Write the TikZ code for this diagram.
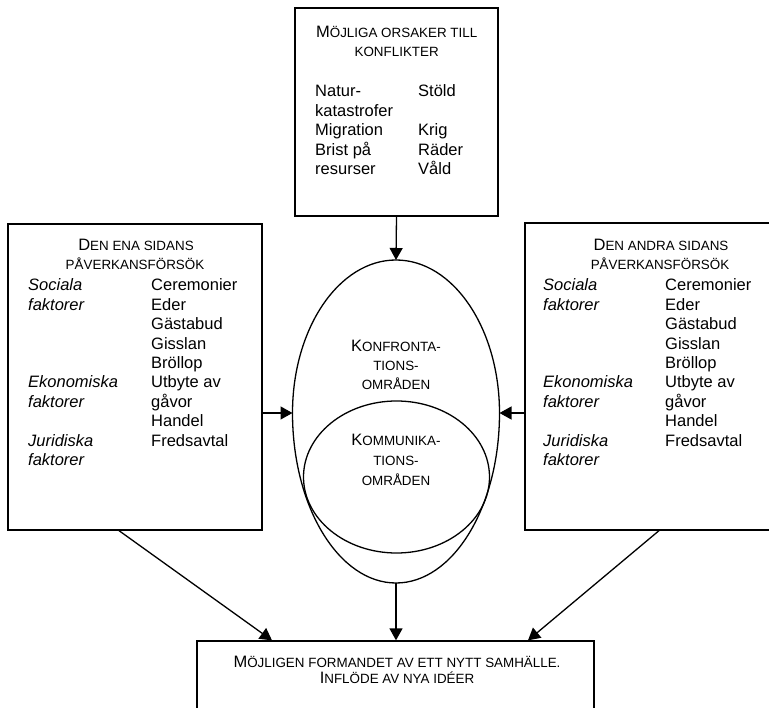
\documentclass[tikz,border=0pt]{standalone}
\usepackage{fontspec}
\setmainfont{Liberation Sans}
\usetikzlibrary{shapes.geometric,arrows.meta,calc}
\newcommand\sct[1]{{\fontsize{13.4}{16}\selectfont\MakeUppercase{#1}}}
\tikzset{
  ln/.style={line width=1.3pt},
  box/.style={ln, draw, inner sep=0pt},
  arr/.style={ln, -{Triangle[length=12pt,width=13pt]}},
  txt/.style={anchor=base west, inner sep=0pt, font=\fontsize{16.5}{19.4}\selectfont},
  itxt/.style={txt, font=\fontsize{16.5}{19.4}\selectfont\itshape},
  hd/.style={anchor=base, inner sep=0pt, font=\fontsize{16.5}{19.4}\selectfont},
}
\begin{document}
\begin{tikzpicture}[x=1pt,y=-1pt]
\useasboundingbox (0,0) rectangle (769,708);
\fill[white] (0,0) rectangle (769,708);

% boxes
\node[box, minimum width=203pt, minimum height=208pt] (top) at (396.5,112) {};
\node[box, minimum width=254pt, minimum height=306pt] (lbox) at (135,377) {};
\node[box, minimum width=272pt, minimum height=307pt] (rbox) at (661,376.5) {};
\node[box, minimum width=397pt, minimum height=89pt] (bot) at (395.5,685.5) {};

% egg
\coordinate (eggN) at (396,260);
\coordinate (eggW) at (292.5,413);
\coordinate (eggE) at (499.5,413);
\coordinate (eggS) at (396,583);
\draw[ln] (eggW) arc[start angle=180,end angle=0,x radius=103.5pt,y radius=153pt]
              arc[start angle=0,end angle=-180,x radius=103.5pt,y radius=170pt] -- cycle;
\node[ln, draw, ellipse, minimum width=186pt, minimum height=152pt, inner sep=0pt] (kom) at (396.5,477) {};

% top box text
\node[hd] (th1) at (396.7,38) {M\sct{ÖJLIGA ORSAKER TILL}};
\node[hd] (th2) at (396.7,57) {\sct{KONFLIKTER}};
\foreach \t [count=\i] in {Natur-,katastrofer,Migration,Brist på,resurser}
  \node[txt] (tl\i) at (315,{97+19.5*(\i-1)}) {\t};
\foreach \t/\n in {Stöld/1,Krig/3,Räder/4,Våld/5}
  \node[txt] (tr\n) at (418,{97+19.5*(\n-1)}) {\t};

% left box text
\node[hd] (lh1) at (136,251) {D\sct{EN ENA SIDANS}};
\node[hd] (lh2) at (135,270) {\sct{PÅVERKANSFÖRSÖK}};
\foreach \t/\n in {Sociala/1,faktorer/2,Ekonomiska/6,faktorer/7,Juridiska/9,faktorer/10}
  \node[itxt] (la\n) at (28,{291+19.4*(\n-1)}) {\t};
\foreach \t [count=\i] in {Ceremonier,Eder,Gästabud,Gisslan,Bröllop,Utbyte av,gåvor,Handel,Fredsavtal}
  \node[txt] (lb\i) at (151,{291+19.4*(\i-1)}) {\t};

% right box text
\node[hd] (rh1) at (661,251) {D\sct{EN ANDRA SIDANS}};
\node[hd] (rh2) at (660,270) {\sct{PÅVERKANSFÖRSÖK}};
\foreach \t/\n in {Sociala/1,faktorer/2,Ekonomiska/6,faktorer/7,Juridiska/9,faktorer/10}
  \node[itxt] (ra\n) at (543,{291+19.4*(\n-1)}) {\t};
\foreach \t [count=\i] in {Ceremonier,Eder,Gästabud,Gisslan,Bröllop,Utbyte av,gåvor,Handel,Fredsavtal}
  \node[txt] (rb\i) at (665,{291+19.4*(\i-1)}) {\t};

% egg texts
\node[hd] (k1) at (396,352) {K\sct{ONFRONTA-}};
\node[hd] (k2) at (396,371) {\sct{TIONS-}};
\node[hd] (k3) at (396,390) {\sct{OMRÅDEN}};
\node[hd] (m1) at (396,446) {K\sct{OMMUNIKA-}};
\node[hd] (m2) at (396,466) {\sct{TIONS-}};
\node[hd] (m3) at (396,486) {\sct{OMRÅDEN}};

% bottom text
\node[hd] (b1) at (397,667) {M\sct{ÖJLIGEN FORMANDET AV ETT NYTT SAMHÄLLE.}};
\node[hd] (b2) at (397,683) {I\sct{NFLÖDE AV NYA IDÉER}};

% arrows
\draw[arr] (top.south) -- (eggN);
\draw[arr] (lbox.east |- eggW) -- (eggW);
\draw[arr] (rbox.west |- eggE) -- (eggE);
\draw[arr] (eggS) -- (eggS |- bot.north);
\draw[arr] ([xshift=-16pt]lbox.south) -- ([xshift=-123.5pt]bot.north);
\draw[arr] ([xshift=-2pt]rbox.south) -- ([xshift=132.5pt]bot.north);
\end{tikzpicture}
\end{document}
